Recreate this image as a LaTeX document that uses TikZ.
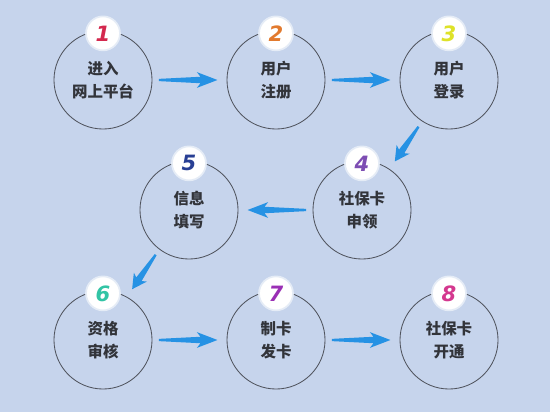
\documentclass[tikz,border=0pt]{standalone}
\usepackage{fontspec}
\newfontfamily\cjk{Noto Sans CJK SC}
\newfontfamily\numfont{DejaVu Sans}
\usetikzlibrary{calc}
\definecolor{bgblue}{RGB}{198,212,236}
\definecolor{arrowblue}{RGB}{38,146,228}
\definecolor{ringgray}{RGB}{80,84,94}
\definecolor{textgray}{RGB}{50,52,58}
\definecolor{numA}{RGB}{212,40,78}
\definecolor{numB}{RGB}{226,122,46}
\definecolor{numC}{RGB}{222,226,40}
\definecolor{numD}{RGB}{125,77,179}
\definecolor{numE}{RGB}{40,63,148}
\definecolor{numF}{RGB}{50,196,165}
\definecolor{numG}{RGB}{154,47,181}
\definecolor{numH}{RGB}{212,56,143}
\tikzset{
  stage/.style={circle,draw=ringgray,line width=0.6pt,minimum size=2.45cm,inner sep=0pt,
    align=center,text=textgray,font=\cjk\bfseries\fontsize{11}{16.5}\selectfont},
  badge/.style={circle,fill=white,draw=white!55!bgblue,line width=1.2pt,minimum size=0.85cm,
    inner sep=0pt,font=\numfont\bfseries\itshape\fontsize{15}{15}\selectfont},
  flow/.style={fill=arrowblue,to path={
    let \p1=($(\tikztostart)!4.5pt!(\tikztotarget)$),
        \p2=($(\tikztotarget)!6.5pt!(\tikztostart)$) in
    ($(\p1)!0.8pt!-90:(\p2)$) -- ($(\p1)!0.8pt!90:(\p2)$)
    -- ($(\p1)!0.71!(\p2)!2.3pt!90:(\p2)$) -- ($(\p1)!0.65!(\p2)!5.6pt!90:(\p2)$)
    -- (\p2)
    -- ($(\p1)!0.65!(\p2)!5.6pt!-90:(\p2)$) -- ($(\p1)!0.71!(\p2)!2.3pt!-90:(\p2)$)
    -- cycle}}
}
\begin{document}
\begin{tikzpicture}[x=0.025cm,y=-0.025cm]
\fill[bgblue] (0,0) rectangle (550,412);
% steps
\node[stage] (c1) at (103,80) {进入\\网上平台};
\node[stage] (c2) at (276,80) {用户\\注册};
\node[stage] (c3) at (449,80) {用户\\登录};
\node[stage] (c4) at (362,210) {社保卡\\申领};
\node[stage] (c5) at (189,210) {信息\\填写};
\node[stage] (c6) at (103,340) {资格\\审核};
\node[stage] (c7) at (276,340) {制卡\\发卡};
\node[stage] (c8) at (449,340) {社保卡\\开通};
% numbers
\foreach \n/\col in {1/numA,2/numB,3/numC,4/numD,5/numE,6/numF,7/numG,8/numH}
  \node[badge,text=\col] (b\n) at ([yshift=-2pt]c\n.north) {\n};
% arrows
\path[flow] (c1.east) to (c2.west);
\path[flow] (c2.east) to (c3.west);
\path[flow] (c3.237) to (c4.56);
\path[flow] (c4.west) to (c5.east);
\path[flow] (c5.233) to (c6.61);
\path[flow] (c6.east) to (c7.west);
\path[flow] (c7.east) to (c8.west);
\end{tikzpicture}
\end{document}
